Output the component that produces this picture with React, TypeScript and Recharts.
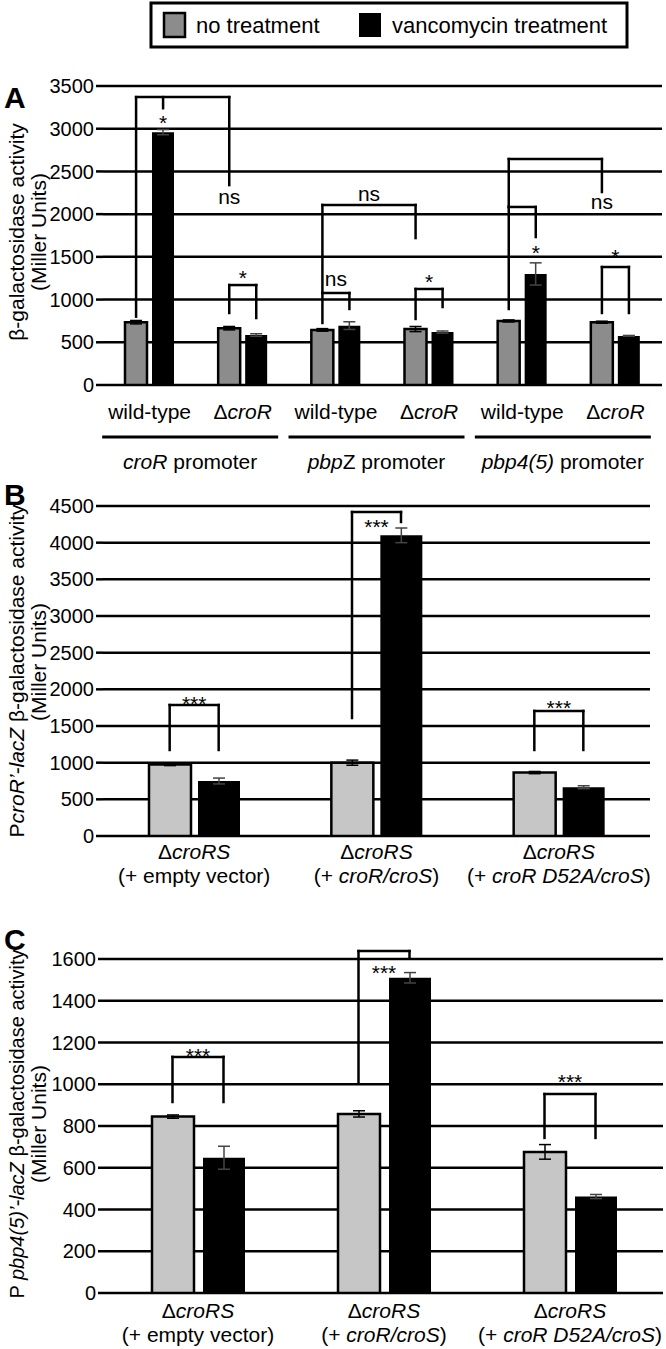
import React from 'react';
import {
  BarChart,
  Bar,
  XAxis,
  YAxis,
  CartesianGrid,
  ErrorBar,
  ReferenceLine,
} from 'recharts';

const FONT = '"Liberation Sans", Arial, Helvetica, sans-serif';
const W = 666;

// ---------- Panel A data ----------
const strainsA = ['wild-type', 'ΔcroR', 'wild-type', 'ΔcroR', 'wild-type', 'ΔcroR'];
const promotersA = ['croR', 'pbpZ', 'pbp4(5)'];
const noTreatA = [735, 665, 645, 655, 750, 735];
const noTreatErrA = [20, 20, 15, 30, 12, 12];
const vancoA = [2960, 585, 695, 620, 1300, 575];
const vancoErrA = [30, 15, 45, 12, 130, 5];
const yTicksA = [0, 500, 1000, 1500, 2000, 2500, 3000, 3500];

// ---------- Panel B / C data ----------
const constructsBC = ['empty vector', 'croR/croS', 'croR D52A/croS'];
const noTreatB = [975, 1000, 865];
const noTreatErrB = [15, 35, 15];
const vancoB = [750, 4100, 665];
const vancoErrB = [40, 100, 20];
const yTicksB = [0, 500, 1000, 1500, 2000, 2500, 3000, 3500, 4000, 4500];

const noTreatC = [845, 858, 676];
const noTreatErrC = [8, 15, 35];
const vancoC = [648, 1510, 462];
const vancoErrC = [55, 25, 10];
const yTicksC = [0, 200, 400, 600, 800, 1000, 1200, 1400, 1600];

// ---------- significance brackets ----------
// [leftGroup, leftBar(0 gray / 1 black), leftLegEnd, rightGroup, rightBar, rightLegEnd, top]
const bracketsA = [
  [0, 0, 800, 1, 0, 2340, 3370],
  [1, 0, 843, 1, 1, 784, 1170],
  [2, 0, 726, 3, 0, 1720, 2107],
  [2, 0, 1077, 2, 1, 890, 1077],
  [3, 0, 773, 3, 1, 913, 1124],
  [4, 0, 890, 5, 0, 2259, 2645],
  [4, 0, 2084, 4, 1, 1732, 2084],
  [5, 0, 843, 5, 1, 843, 1381],
];
// [group, bar, from, to]
const stubsA = [[0, 1, 3370, 3240]];
// [text, group1, group2, bar (0 gray, 0.5 between, 1 black), y]
const sigA: [string, number, number, number, number][] = [
  ['*', 0, 0, 1, 3125],
  ['ns', 1, 1, 0, 2190],
  ['*', 1, 1, 0.5, 1311],
  ['ns', 2, 3, 0, 2224],
  ['ns', 2, 2, 0.5, 1229],
  ['*', 3, 3, 0.5, 1264],
  ['ns', 5, 5, 0, 2130],
  ['*', 4, 4, 1, 1604],
  ['*', 5, 5, 0.5, 1557],
];

const bracketsB = [
  [0, 0, 1173, 0, 1, 1173, 1786],
  [1, 0, 1609, 1, 1, 4282, 4418],
  [2, 0, 1173, 2, 1, 1173, 1705],
];
const sigB: [string, number, number, number, number][] = [
  ['***', 0, 0, 0.5, 1868],
  ['***', 1, 1, 0.5, 4282],
  ['***', 2, 2, 0.5, 1814],
];

const bracketsC = [
  [0, 0, 915, 0, 1, 915, 1131],
  [1, 0, 1006, 1, 1, 1605, 1638],
  [2, 0, 743, 2, 1, 743, 953],
];
const sigC: [string, number, number, number, number][] = [
  ['***', 0, 0, 0.5, 1159],
  ['***', 1, 1, 0.5, 1557],
  ['***', 2, 2, 0.5, 1035],
];

// ---------- ticks ----------
const makeTickA = (plotBottom: number, band: number) => (props: any) => {
  const { x, payload } = props;
  const i = Number(payload.value);
  const s = strainsA[i];
  const isDelta = s.startsWith('Δ');
  const g = Math.floor(i / 2);
  const gx = x + band / 2 - 6;
  const prom = promotersA[g];
  return (
    <g>
      <text x={x} y={plotBottom + 34} textAnchor="middle" fontSize={21} fill="#000">
        {isDelta ? (
          <>
            <tspan>Δ</tspan>
            <tspan fontStyle="italic">{s.slice(1)}</tspan>
          </>
        ) : (
          s
        )}
      </text>
      {i % 2 === 0 && (
        <>
          <line x1={gx - 88} x2={gx + 88} y1={plotBottom + 52} y2={plotBottom + 52} stroke="#000" strokeWidth={3} />
          <text x={gx} y={plotBottom + 84} textAnchor="middle" fontSize={21} fill="#000">
            {prom === 'pbpZ' ? (
              <>
                <tspan fontStyle="italic">pbp</tspan>
                <tspan>Z</tspan>
              </>
            ) : (
              <tspan fontStyle="italic">{prom}</tspan>
            )}
            <tspan> promoter</tspan>
          </text>
        </>
      )}
    </g>
  );
};

const makeTickBC = (plotBottom: number, y1: number, y2: number) => (props: any) => {
  const { x, payload } = props;
  const i = Number(payload.value);
  const c = constructsBC[i];
  return (
    <g>
      <text x={x} y={plotBottom + y1} textAnchor="middle" fontSize={21} fill="#000">
        <tspan>Δ</tspan>
        <tspan fontStyle="italic">croRS</tspan>
      </text>
      <text x={x} y={plotBottom + y2} textAnchor="middle" fontSize={21} fill="#000">
        <tspan>(+ </tspan>
        {c === 'empty vector' ? <tspan>{c}</tspan> : <tspan fontStyle="italic">{c}</tspan>}
        <tspan>)</tspan>
      </text>
    </g>
  );
};

type PanelProps = {
  top: number;
  height: number;
  marginTop: number;
  marginRight: number;
  yWidth: number;
  xHeight: number;
  gray: number[];
  grayErr: number[];
  black: number[];
  blackErr: number[];
  grayFill: string;
  domain: [number, number];
  ticks: number[];
  barSize: number;
  barGap: number;
  brackets: number[][];
  stubs?: number[][];
  sigs: [string, number, number, number, number][];
  tick: any;
};

const SIG_FS = 21;
const LW = 2.5;

function Panel(p: PanelProps) {
  const data = p.gray.map((g, i) => ({ idx: i, g, ge: p.grayErr[i], b: p.black[i], be: p.blackErr[i] }));
  // pixel shift from a group's centre to the centre of its gray (0) / black (1) bar
  const half = (p.barSize + p.barGap) / 2;
  const sh = (s: number) => (s - 0.5) * 2 * half;

  // segments: [g1, shift1, y1, g2, shift2, y2]
  const segs: number[][] = [];
  p.brackets.forEach(([lg, ls, le, rg, rs, re, top]) => {
    segs.push([lg, sh(ls), le, lg, sh(ls), top]);
    segs.push([lg, sh(ls), top, rg, sh(rs), top]);
    segs.push([rg, sh(rs), top, rg, sh(rs), re]);
  });
  (p.stubs || []).forEach(([g, s, a, b]) => segs.push([g, sh(s), a, g, sh(s), b]));

  return (
    <div style={{ position: 'absolute', left: 0, top: p.top, width: W, height: p.height }}>
      <BarChart
        width={W}
        height={p.height}
        data={data}
        margin={{ top: p.marginTop, right: p.marginRight, left: 0, bottom: 0 }}
        barSize={p.barSize}
        barGap={p.barGap}
      >
        <CartesianGrid vertical={false} stroke="#000" strokeWidth={LW} />
        <XAxis
          dataKey="idx"
          type="category"
          height={p.xHeight}
          axisLine={false}
          tickLine={false}
          interval={0}
          tick={p.tick}
        />
        <YAxis
          domain={p.domain}
          ticks={p.ticks}
          width={p.yWidth}
          interval={0}
          axisLine={false}
          tickLine={{ stroke: '#000', strokeWidth: LW }}
          tickSize={7}
          tickMargin={2}
          tick={{ fontSize: 20, fill: '#000' }}
          allowDataOverflow
        />
        <Bar dataKey="g" fill={p.grayFill} stroke="#000" strokeWidth={LW} isAnimationActive={false}>
          <ErrorBar dataKey="ge" width={6} strokeWidth={1.5} stroke="#000" direction="y" />
        </Bar>
        <Bar dataKey="b" fill="#000" isAnimationActive={false}>
          <ErrorBar dataKey="be" width={6} strokeWidth={1.5} stroke="#444" direction="y" />
        </Bar>
        {segs.map((s, k) => (
          <ReferenceLine
            key={'s' + k}
            segment={[
              { x: s[0], y: s[2] },
              { x: s[3], y: s[5] },
            ]}
            ifOverflow="visible"
            shape={(sp: any) => (
              <line
                x1={sp.x1 + s[1]}
                y1={sp.y1}
                x2={sp.x2 + s[4]}
                y2={sp.y2}
                stroke="#000"
                strokeWidth={LW}
                strokeLinecap="square"
              />
            )}
          />
        ))}
        {p.sigs.map(([t, g1, g2, s, y], k) => (
          <ReferenceLine
            key={'t' + k}
            segment={[
              { x: g1, y },
              { x: g2, y },
            ]}
            ifOverflow="visible"
            shape={(sp: any) => (
              <text
                x={(sp.x1 + sp.x2) / 2 + sh(s)}
                y={sp.y1 + (t.startsWith('*') ? 0.57 : 0.27) * SIG_FS}
                textAnchor="middle"
                fontSize={SIG_FS}
                fill="#000"
              >
                {t}
              </text>
            )}
          />
        ))}
      </BarChart>
    </div>
  );
}

export default function App() {
  const bandA = (W - 4 - 103) / 6;
  return (
    <div style={{ position: 'absolute', left: 0, top: 0, width: W, height: 1349, background: '#fff', fontFamily: FONT, color: '#000' }}>
      <Panel
        top={0}
        height={480}
        marginTop={86}
        marginRight={4}
        yWidth={103}
        xHeight={95}
        gray={noTreatA}
        grayErr={noTreatErrA}
        black={vancoA}
        blackErr={vancoErrA}
        grayFill="#8c8c8c"
        domain={[0, 3500]}
        ticks={yTicksA}
        barSize={22}
        barGap={5}
        brackets={bracketsA}
        stubs={stubsA}
        sigs={sigA}
        tick={makeTickA(385, bandA)}
      />
      <Panel
        top={480}
        height={420}
        marginTop={26}
        marginRight={16}
        yWidth={103}
        xHeight={64}
        gray={noTreatB}
        grayErr={noTreatErrB}
        black={vancoB}
        blackErr={vancoErrB}
        grayFill="#c6c6c6"
        domain={[0, 4500]}
        ticks={yTicksB}
        barSize={42}
        barGap={7}
        brackets={bracketsB}
        sigs={sigB}
        tick={makeTickBC(356, 23, 47)}
      />
      <Panel
        top={900}
        height={449}
        marginTop={59}
        marginRight={3}
        yWidth={105}
        xHeight={56}
        gray={noTreatC}
        grayErr={noTreatErrC}
        black={vancoC}
        blackErr={vancoErrC}
        grayFill="#c6c6c6"
        domain={[0, 1600]}
        ticks={yTicksC}
        barSize={42}
        barGap={9}
        brackets={bracketsC}
        sigs={sigC}
        tick={makeTickBC(393, 25, 49)}
      />
      <svg
        width={W}
        height={1349}
        style={{ position: 'absolute', left: 0, top: 0, pointerEvents: 'none' }}
      >
        {/* legend */}
        <rect x={151} y={3} width={476} height={44} fill="#fff" stroke="#000" strokeWidth={3} />
        <rect x={164} y={13} width={21} height={24} fill="#8c8c8c" stroke="#000" strokeWidth={2.5} />
        <text x={196} y={33} fontSize={22} fill="#000">no treatment</text>
        <rect x={359} y={13} width={22} height={24} fill="#000" />
        <text x={392} y={33} fontSize={22} fill="#000">vancomycin treatment</text>

        {/* panel letters */}
        <text x={4} y={108} fontSize={30} fontWeight="bold" fill="#000">A</text>
        <text x={4} y={505} fontSize={30} fontWeight="bold" fill="#000">B</text>
        <text x={4} y={950} fontSize={30} fontWeight="bold" fill="#000">C</text>

        {/* y-axis titles */}
        <text transform="translate(24,232) rotate(-90)" textAnchor="middle" fontSize={21} fill="#000">
          β-galactosidase activity
        </text>
        <text transform="translate(46,232) rotate(-90)" textAnchor="middle" fontSize={21} fill="#000">
          (Miller Units)
        </text>

        <text transform="translate(24,671) rotate(-90)" textAnchor="middle" fontSize={21} fill="#000">
          <tspan>P</tspan>
          <tspan fontStyle="italic">croR’-lacZ</tspan>
          <tspan> β-galactosidase activity</tspan>
        </text>
        <text transform="translate(46,662) rotate(-90)" textAnchor="middle" fontSize={21} fill="#000">
          (Miller Units)
        </text>

        <text transform="translate(24,1124) rotate(-90)" textAnchor="middle" fontSize={20} fill="#000">
          <tspan>P </tspan>
          <tspan fontStyle="italic">pbp4(5)’-lacZ</tspan>
          <tspan>  β-galactosidase activity</tspan>
        </text>
        <text transform="translate(46,1124) rotate(-90)" textAnchor="middle" fontSize={21} fill="#000">
          (Miller Units)
        </text>
      </svg>
    </div>
  );
}
